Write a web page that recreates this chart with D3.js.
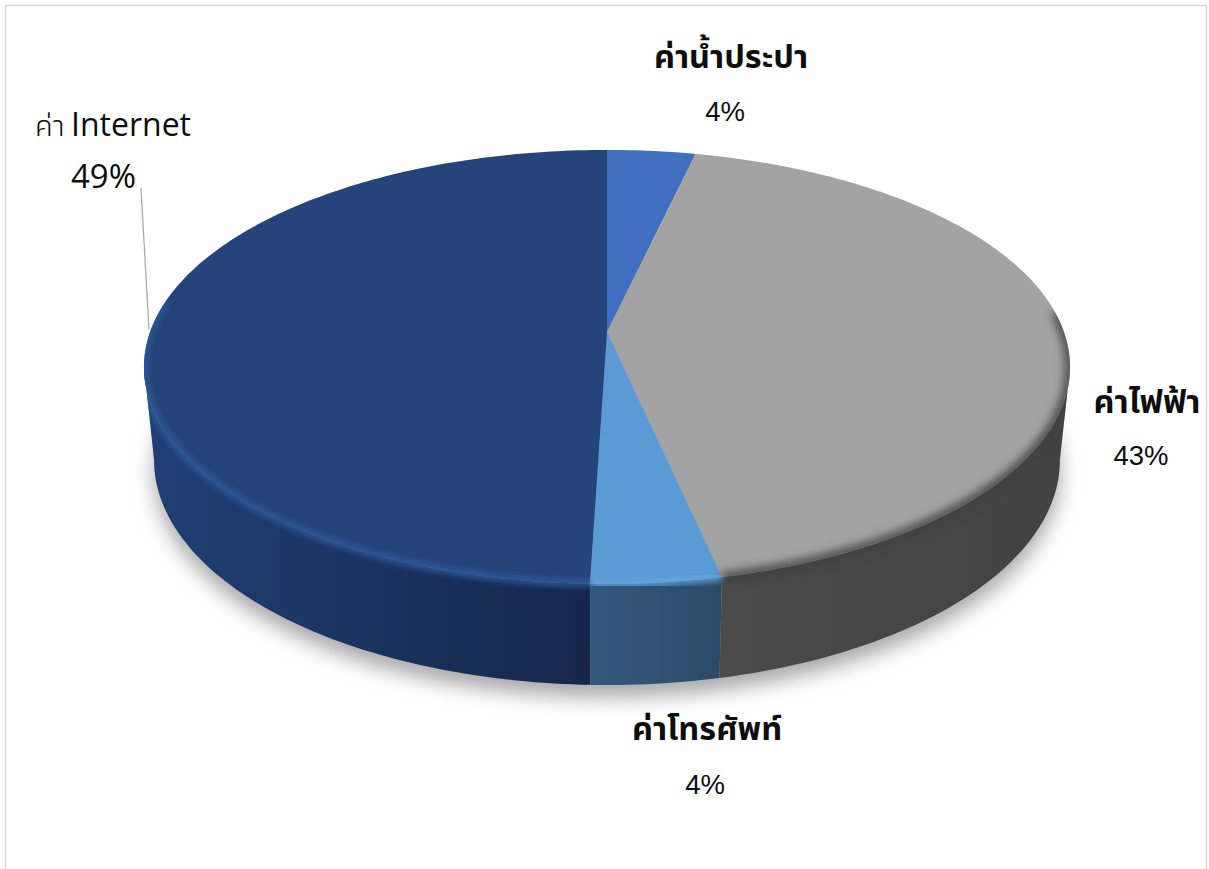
<!DOCTYPE html>
<html>
<head>
<meta charset="utf-8">
<script src="https://cdnjs.cloudflare.com/ajax/libs/d3/7.8.5/d3.min.js"></script>
<style>
  body { margin: 0; background: #fff; }
  svg { display: block; }
  text { fill: #0d0d0d; }
</style>
</head>
<body>
<script>
var categories = ["ค่าน้ำประปา", "ค่าไฟฟ้า", "ค่าโทรศัพท์", "ค่า Internet"];
var values = [3.6, 43.0, 3.9, 49.5];
var percentLabels = ["4%", "43%", "4%", "49%"];

var topColors = ["#4270c0", "#a3a3a3", "#5b9bd5", "#25447a"];
var rimColors = ["#4f7fd0", "#3f3f3f", "#66a6e0", "#2f5b9e"];
var wallStops = [
  ["#2f5597", "#2f5597"],
  ["#4a4a4a", "#424242"],
  ["#34597e", "#2b4a68"],
  ["#203f75", "#15264a"]
];

var width = 1209, height = 869;
var p = 0.161;

var svg = d3.select("body").append("svg")
  .attr("width", width)
  .attr("height", height);

var defs = svg.append("defs");

// top face and bottom face of the disc, both in perspective
var topX = d3.scaleLinear().domain([-1, 1]).range([607 - 457, 607 + 457]);
var topY = d3.scaleLinear().domain([-1, 1]).range([332 - 211.4, 332 + 211.4]);
var botX = d3.scaleLinear().domain([-1, 1]).range([607 - 447, 607 + 447]);
var botY = d3.scaleLinear().domain([-1, 1]).range([424 - 219, 424 + 219]);

function project(a, sx, sy) {
  var u = Math.sin(a), v = -Math.cos(a);
  var s = 1 / (1 - p * v);
  return [sx(u * s), sy(v * s)];
}
function arcPoints(a0, a1, sx, sy) {
  var step = Math.PI / 180;
  return d3.range(a0, a1, step).concat([a1]).map(function(a) { return project(a, sx, sy); });
}

var line = d3.line();
var slices = d3.pie().sort(null).value(function(d) { return d; })(values);

// angles where the top and bottom outlines meet the silhouette
var wallStart = Math.acos(-p);
var wallEnd = 2 * Math.PI - wallStart;

var blur = function(id, dev) {
  defs.append("filter").attr("id", id)
    .attr("x", "-20%").attr("y", "-20%").attr("width", "140%").attr("height", "140%")
    .append("feGaussianBlur").attr("stdDeviation", dev);
};
blur("shadow", 10);
blur("rimSoft", 3);
blur("rimWide", 5);

// frame
svg.append("path")
  .attr("d", line([[5.5, height], [5.5, 5.5], [1206.5, 5.5], [1206.5, height]]))
  .attr("fill", "none")
  .attr("stroke", "#d9d9d9")
  .attr("stroke-width", 1.5);

// soft shadow under the disc
svg.append("path")
  .attr("d", line(arcPoints(0, 2 * Math.PI, botX, botY).map(function(d) { return [d[0], d[1] + 12]; })) + "Z")
  .attr("fill", "#a8a8a8")
  .attr("filter", "url(#shadow)");

// side wall
var wallRanges = slices.map(function(d) {
  return [Math.max(d.startAngle, wallStart), Math.min(d.endAngle, wallEnd)];
});

wallRanges.forEach(function(r, i) {
  if (r[1] <= r[0]) return;
  var upper = arcPoints(r[0], r[1], topX, topY);
  var lower = arcPoints(r[0], r[1], botX, botY).reverse();
  var xs = upper.concat(lower).map(function(d) { return d[0]; });
  var grad = defs.append("linearGradient").attr("id", "wall" + i)
    .attr("gradientUnits", "userSpaceOnUse")
    .attr("x1", d3.min(xs)).attr("x2", d3.max(xs))
    .attr("y1", 0).attr("y2", 0);
  grad.append("stop").attr("offset", 0).attr("stop-color", wallStops[i][0]);
  grad.append("stop").attr("offset", 1).attr("stop-color", wallStops[i][1]);
  svg.append("path")
    .attr("d", line(upper.concat(lower)) + "Z")
    .attr("fill", "url(#wall" + i + ")");
});

// top face slices
var apex = [topX(0), topY(0)];
slices.forEach(function(d, i) {
  svg.append("path")
    .attr("d", line([apex].concat(arcPoints(d.startAngle, d.endAngle, topX, topY))) + "Z")
    .attr("fill", topColors[i]);
});

// bevel along the rim, kept inside the disc outline
defs.append("clipPath").attr("id", "disc")
  .append("path")
  .attr("d", line(arcPoints(0, 2 * Math.PI, topX, topY)) + "Z"
    + line(arcPoints(wallStart, wallEnd, topX, topY).concat(arcPoints(wallStart, wallEnd, botX, botY).reverse())) + "Z");

var bevel = svg.append("g").attr("clip-path", "url(#disc)");
slices.forEach(function(d, i) {
  if (i === 0) return;
  var from = i === 1 ? Math.max(d.startAngle, Math.PI * 0.47) : d.startAngle;
  var to = i === 3 ? Math.min(d.endAngle, Math.PI * 1.55) : d.endAngle;
  bevel.append("path")
    .attr("d", line(arcPoints(from, to, topX, topY)))
    .attr("fill", "none")
    .attr("stroke", rimColors[i])
    .attr("stroke-width", i === 1 ? 9 : 6)
    .attr("filter", i === 1 ? "url(#rimWide)" : "url(#rimSoft)");
});

// labels
var labelAnchors = [
  { x: 731, y: 68, px: 725, py: 121 },
  { x: 1147, y: 413, px: 1141, py: 465 },
  { x: 707, y: 740, px: 705, py: 794 }
];
labelAnchors.forEach(function(a, i) {
  svg.append("text")
    .attr("x", a.x).attr("y", a.y)
    .attr("text-anchor", "middle")
    .attr("font-family", "'Noto Sans Thai', 'DejaVu Sans', 'Noto Sans', sans-serif")
    .attr("font-weight", 700)
    .attr("font-size", 32.5)
    .text(categories[i]);
  svg.append("text")
    .attr("x", a.px).attr("y", a.py)
    .attr("text-anchor", "middle")
    .attr("font-family", "'Liberation Sans', Arial, sans-serif")
    .attr("font-size", 27.5)
    .text(percentLabels[i]);
});

// the big label on the left, with its leader line
var parts = categories[3].split(" ");
var big = svg.append("text")
  .attr("y", 136)
  .attr("font-family", "'Noto Sans Thai', 'DejaVu Sans', 'Noto Sans', sans-serif");
big.append("tspan").attr("x", 35).attr("font-size", 29).attr("font-weight", 300).text(parts[0]);
big.append("tspan").attr("x", 71).attr("font-size", 32).attr("font-family", "'Open Sans', sans-serif").text(parts[1]);

svg.append("text")
  .attr("x", 71).attr("y", 188)
  .attr("font-family", "'Open Sans', sans-serif")
  .attr("font-size", 33)
  .text(percentLabels[3]);

svg.append("path")
  .attr("d", line([[141, 188], [149, 330]]))
  .attr("fill", "none")
  .attr("stroke", "#a6a6a6")
  .attr("stroke-width", 1.2);
</script>
</body>
</html>
